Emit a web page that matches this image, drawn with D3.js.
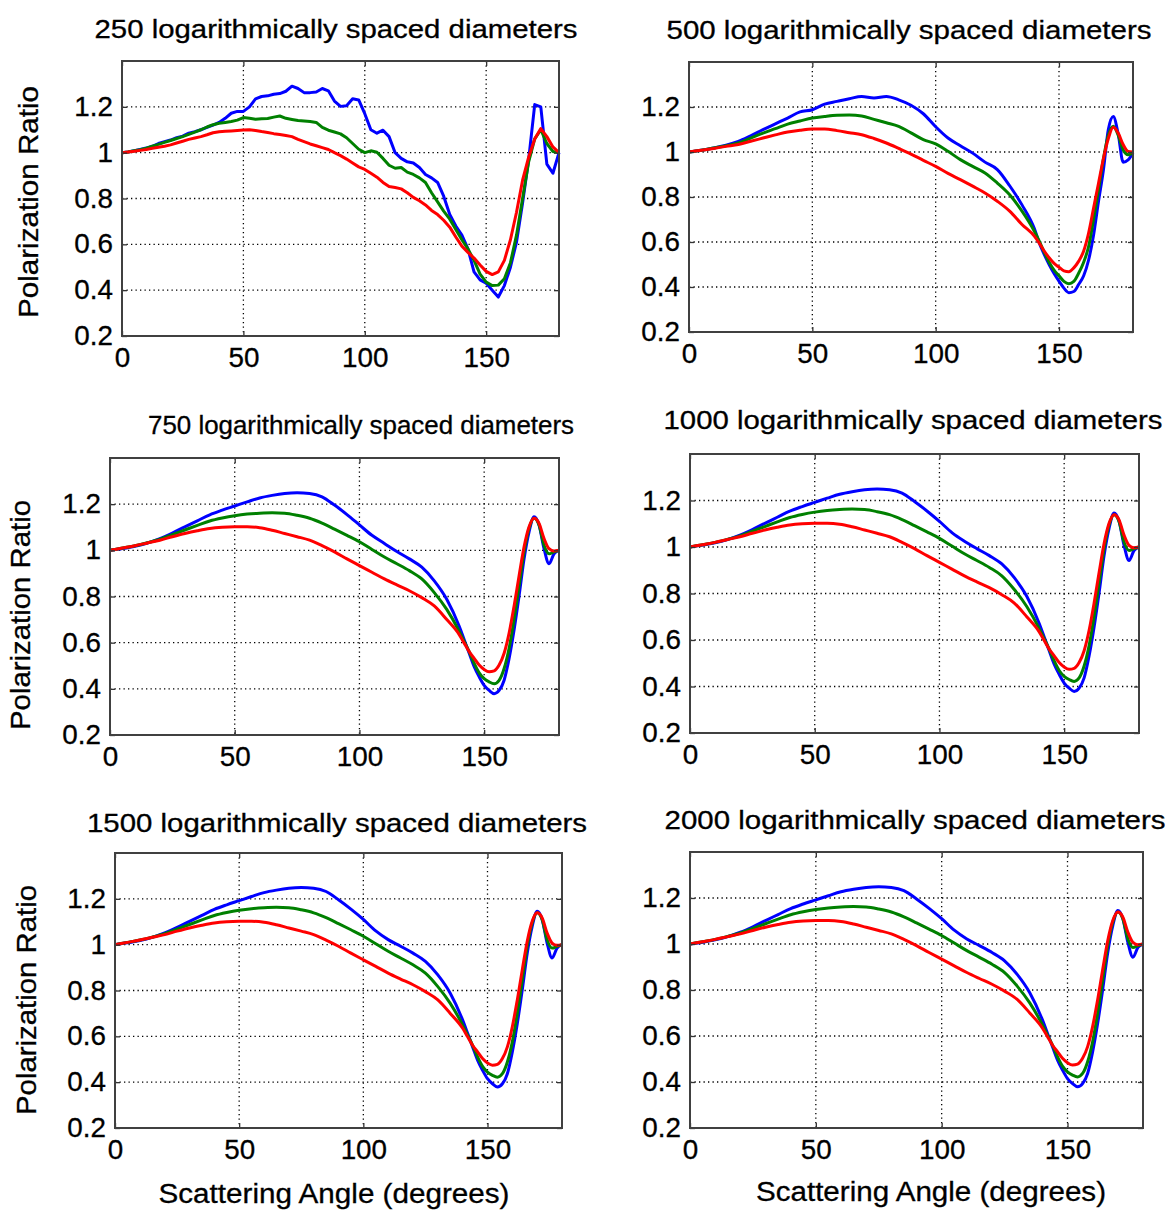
<!DOCTYPE html>
<html>
<head>
<meta charset="utf-8">
<script src="https://cdn.jsdelivr.net/npm/d3@7"></script>
<style>
  body { margin: 0; background: #fff; }
  svg { display: block; }
  text { font-family: "Liberation Sans", Arial, Helvetica, sans-serif; fill: #000; }
</style>
</head>
<body>
<svg id="chart" width="1170" height="1213"></svg>
<script>
const anglesFine = [0,2.5,5,7.5,10,12.5,15,17.5,20,22.5,25,27.5,30,32.5,35,37.5,40,42.5,45,47.5,
  50,52.5,55,57.5,60,62.5,65,67.5,70,72.5,75,77.5,80,82.5,85,87.5,90,92.5,95,97.5,
  100,102.5,105,107.5,110,112.5,115,117.5,120,122.5,125,127.5,130,132.5,135,137.5,
  140,142.5,145,147.5,150,152.5,155,157.5,160,162.5,165,167.5,170,172.5,175,177.5,180];
const angles = [0,5,10,15,20,25,30,35,40,45,50,55,60,65,70,75,80,85,90,95,100,105,110,115,120,125,130,135,140,
  142,144,146,148,150,152,154,156,158,160,162,164,166,168,170,172,174,176,178,180];

// 250 diameters (on anglesFine)
const d250Blue = [1.000,1.003,1.008,1.014,1.020,1.028,1.040,1.048,1.055,1.065,1.072,1.085,1.092,1.100,1.110,1.120,
  1.132,1.150,1.172,1.180,1.180,1.200,1.235,1.245,1.248,1.255,1.258,1.268,1.290,1.280,1.262,1.262,1.265,1.280,1.270,
  1.225,1.202,1.205,1.235,1.230,1.170,1.100,1.085,1.098,1.070,1.000,0.975,0.960,0.955,0.935,0.905,0.890,0.870,0.810,
  0.730,0.680,0.640,0.580,0.480,0.445,0.430,0.400,0.370,0.420,0.500,0.610,0.780,0.970,1.210,1.200,0.950,0.910,1.000];
const d250Green = [1.000,1.003,1.008,1.013,1.020,1.028,1.036,1.045,1.053,1.062,1.070,1.080,1.090,1.100,1.112,1.122,
  1.128,1.132,1.136,1.142,1.153,1.150,1.146,1.148,1.149,1.155,1.160,1.150,1.145,1.140,1.138,1.136,1.132,1.110,1.098,
  1.090,1.082,1.065,1.040,1.015,1.000,1.008,1.002,0.975,0.945,0.932,0.935,0.915,0.905,0.890,0.870,0.825,0.785,0.745,
  0.710,0.665,0.620,0.580,0.530,0.470,0.435,0.420,0.422,0.450,0.520,0.640,0.800,0.960,1.060,1.100,1.040,1.005,1.000];
const d250Red = [1.000,1.003,1.006,1.010,1.014,1.019,1.024,1.028,1.034,1.042,1.050,1.058,1.064,1.070,1.078,1.087,
  1.091,1.093,1.095,1.097,1.099,1.100,1.097,1.092,1.088,1.083,1.079,1.075,1.070,1.058,1.048,1.038,1.030,1.022,1.014,
  1.000,0.987,0.972,0.955,0.938,0.927,0.910,0.893,0.870,0.852,0.848,0.842,0.825,0.805,0.790,0.772,0.748,0.730,0.705,
  0.675,0.632,0.592,0.565,0.540,0.510,0.482,0.468,0.480,0.530,0.620,0.740,0.880,0.980,1.060,1.105,1.070,1.025,1.000];

// 500 diameters (on angles)
const d500Blue = [1.000,1.008,1.018,1.030,1.047,1.072,1.099,1.125,1.151,1.178,1.188,1.213,1.225,1.237,1.247,1.240,
  1.247,1.232,1.208,1.170,1.112,1.062,1.028,0.995,0.955,0.922,0.850,0.765,0.660,
  0.596,0.545,0.500,0.460,0.426,0.395,0.375,0.380,0.412,0.450,0.520,0.630,0.780,0.920,1.100,1.158,1.080,0.955,0.965,0.996];
const d500Green = [1.000,1.008,1.018,1.028,1.040,1.062,1.084,1.104,1.124,1.138,1.151,1.158,1.163,1.164,1.160,1.145,
  1.130,1.114,1.085,1.055,1.036,1.003,0.966,0.936,0.907,0.862,0.810,0.737,0.648,
  0.604,0.555,0.510,0.475,0.450,0.425,0.415,0.425,0.462,0.510,0.580,0.700,0.830,0.970,1.075,1.115,1.075,1.010,0.988,0.996];
const d500Red = [1.000,1.008,1.016,1.025,1.033,1.048,1.062,1.076,1.089,1.097,1.102,1.102,1.095,1.086,1.077,1.060,
  1.040,1.016,0.991,0.963,0.936,0.905,0.877,0.848,0.818,0.781,0.737,0.678,0.626,
  0.595,0.560,0.530,0.505,0.488,0.472,0.468,0.485,0.515,0.560,0.640,0.750,0.860,0.970,1.060,1.110,1.084,1.033,1.003,1.000];

// 750 diameters
const d750Blue = [1.000,1.008,1.018,1.032,1.051,1.075,1.102,1.128,1.154,1.174,1.192,1.210,1.227,1.238,1.246,1.249,
  1.246,1.232,1.196,1.155,1.110,1.065,1.030,0.995,0.963,0.927,0.868,0.788,0.671,
  0.613,0.554,0.496,0.452,0.415,0.393,0.379,0.393,0.437,0.532,0.656,0.803,0.963,1.080,1.146,1.110,1.007,0.942,0.985,1.000];
const d750Green = [1.000,1.010,1.020,1.033,1.048,1.068,1.088,1.108,1.127,1.140,1.150,1.157,1.161,1.163,1.161,1.152,
  1.139,1.118,1.092,1.065,1.037,1.004,0.971,0.942,0.912,0.876,0.817,0.744,0.649,
  0.605,0.561,0.510,0.469,0.444,0.430,0.422,0.437,0.488,0.576,0.700,0.846,0.993,1.095,1.139,1.110,1.022,0.985,0.993,1.000];
const d750Red = [1.000,1.010,1.020,1.032,1.044,1.059,1.073,1.085,1.095,1.100,1.102,1.102,1.098,1.087,1.073,1.059,
  1.044,1.020,0.993,0.963,0.934,0.905,0.876,0.850,0.825,0.795,0.759,0.700,0.635,
  0.598,0.561,0.532,0.503,0.484,0.474,0.478,0.503,0.554,0.642,0.759,0.890,1.015,1.102,1.139,1.117,1.051,1.007,0.997,1.000];

// 1000 diameters
const d1000Blue = [1.000,1.008,1.018,1.032,1.051,1.075,1.102,1.128,1.154,1.174,1.192,1.210,1.227,1.238,1.246,1.249,
  1.246,1.232,1.196,1.155,1.110,1.062,1.025,0.993,0.963,0.927,0.868,0.788,0.671,
  0.613,0.554,0.496,0.452,0.415,0.393,0.379,0.393,0.437,0.532,0.656,0.803,0.963,1.080,1.146,1.110,1.007,0.942,0.985,1.000];
const d1000Green = [1.000,1.010,1.020,1.033,1.048,1.068,1.088,1.108,1.127,1.140,1.150,1.157,1.161,1.163,1.161,1.152,
  1.139,1.118,1.092,1.065,1.037,1.004,0.971,0.942,0.912,0.876,0.817,0.744,0.649,
  0.605,0.561,0.510,0.469,0.444,0.430,0.422,0.437,0.488,0.576,0.700,0.846,0.993,1.095,1.139,1.110,1.022,0.985,0.993,1.000];
const d1000Red = [1.000,1.010,1.020,1.032,1.044,1.059,1.073,1.085,1.095,1.100,1.102,1.102,1.098,1.087,1.073,1.059,
  1.044,1.020,0.993,0.963,0.934,0.905,0.876,0.850,0.825,0.795,0.759,0.700,0.635,
  0.598,0.561,0.532,0.503,0.484,0.474,0.478,0.503,0.554,0.642,0.759,0.890,1.015,1.102,1.139,1.117,1.051,1.007,0.997,1.000];

// 1500 diameters
const d1500Blue = [1.000,1.008,1.018,1.032,1.051,1.075,1.102,1.128,1.154,1.174,1.192,1.210,1.227,1.238,1.246,1.249,
  1.246,1.232,1.196,1.155,1.110,1.060,1.022,0.993,0.963,0.927,0.868,0.788,0.671,
  0.613,0.554,0.496,0.452,0.415,0.393,0.379,0.393,0.437,0.532,0.656,0.803,0.963,1.080,1.146,1.110,1.007,0.942,0.985,1.000];
const d1500Green = [1.000,1.010,1.020,1.033,1.048,1.068,1.088,1.108,1.127,1.140,1.150,1.157,1.161,1.163,1.161,1.152,
  1.139,1.118,1.092,1.065,1.037,1.004,0.971,0.942,0.912,0.876,0.817,0.744,0.649,
  0.605,0.561,0.510,0.469,0.444,0.430,0.422,0.437,0.488,0.576,0.700,0.846,0.993,1.095,1.139,1.110,1.022,0.985,0.993,1.000];
const d1500Red = [1.000,1.010,1.020,1.032,1.044,1.059,1.073,1.085,1.095,1.100,1.102,1.102,1.098,1.087,1.073,1.059,
  1.044,1.020,0.993,0.963,0.934,0.905,0.876,0.850,0.825,0.795,0.759,0.700,0.635,
  0.598,0.561,0.532,0.503,0.484,0.474,0.478,0.503,0.554,0.642,0.759,0.890,1.015,1.102,1.139,1.117,1.051,1.007,0.997,1.000];

// 2000 diameters
const d2000Blue = [1.000,1.008,1.018,1.032,1.051,1.075,1.102,1.128,1.154,1.174,1.192,1.210,1.227,1.238,1.246,1.249,
  1.246,1.232,1.196,1.155,1.110,1.060,1.022,0.993,0.963,0.927,0.868,0.788,0.671,
  0.613,0.554,0.496,0.452,0.415,0.393,0.379,0.393,0.437,0.532,0.656,0.803,0.963,1.080,1.146,1.110,1.007,0.942,0.985,1.000];
const d2000Green = [1.000,1.010,1.020,1.033,1.048,1.068,1.088,1.108,1.127,1.140,1.150,1.157,1.161,1.163,1.161,1.152,
  1.139,1.118,1.092,1.065,1.037,1.004,0.971,0.942,0.912,0.876,0.817,0.744,0.649,
  0.605,0.561,0.510,0.469,0.444,0.430,0.422,0.437,0.488,0.576,0.700,0.846,0.993,1.095,1.139,1.110,1.022,0.985,0.993,1.000];
const d2000Red = [1.000,1.010,1.020,1.032,1.044,1.059,1.073,1.085,1.095,1.100,1.102,1.102,1.098,1.087,1.073,1.059,
  1.044,1.020,0.993,0.963,0.934,0.905,0.876,0.850,0.825,0.795,0.759,0.700,0.635,
  0.598,0.561,0.532,0.503,0.484,0.474,0.478,0.503,0.554,0.642,0.759,0.890,1.015,1.102,1.139,1.117,1.051,1.007,0.997,1.000];

const titles = ["250 logarithmically spaced diameters", "500 logarithmically spaced diameters",
  "750 logarithmically spaced diameters", "1000 logarithmically spaced diameters",
  "1500 logarithmically spaced diameters", "2000 logarithmically spaced diameters"];
const xTicks = [0, 50, 100, 150];
const yTicks = [0.2, 0.4, 0.6, 0.8, 1, 1.2];
const xGrid = [50, 100, 150];
const yGrid = [0.4, 0.6, 0.8, 1, 1.2];
const yLabel = "Polarization Ratio";
const xLabel = "Scattering Angle (degrees)";

const panels = [
  { x: anglesFine, series: [d250Blue, d250Green, d250Red] },
  { x: angles, series: [d500Blue, d500Green, d500Red] },
  { x: angles, series: [d750Blue, d750Green, d750Red] },
  { x: angles, series: [d1000Blue, d1000Green, d1000Red] },
  { x: angles, series: [d1500Blue, d1500Green, d1500Red] },
  { x: angles, series: [d2000Blue, d2000Green, d2000Red] }
];

// pixel boxes of each subplot + where their texts go
const layout = [
  { l: 122, t: 61,  r: 559,  b: 336,  tx: 336, ty: 38,  tw: 483, yl: { x: 28, y: 202, w: 232 } },
  { l: 689, t: 62,  r: 1133, b: 332,  tx: 909, ty: 39,  tw: 485 },
  { l: 110, t: 458, r: 559,  b: 735,  tx: 361, ty: 434, tw: 426, yl: { x: 20, y: 615, w: 230 } },
  { l: 690, t: 454, r: 1139, b: 733,  tx: 913, ty: 429, tw: 499 },
  { l: 115, t: 853, r: 562,  b: 1128, tx: 337, ty: 832, tw: 500, yl: { x: 26, y: 1000, w: 230 }, xl: { x: 334, y: 1203, w: 351 } },
  { l: 690, t: 852, r: 1143, b: 1128, tx: 915, ty: 829, tw: 501, xl: { x: 931, y: 1201, w: 350 } }
];

const colors = ["#0000ff", "#008000", "#ff0000"];
const svg = d3.select("#chart");

function stretch(sel, k) {
  sel.each(function () {
    const w = this.getComputedTextLength();
    d3.select(this).attr("textLength", w * k).attr("lengthAdjust", "spacingAndGlyphs");
  });
}

panels.forEach((p, i) => {
  const box = layout[i];
  const x = d3.scaleLinear().domain([0, 180]).range([box.l, box.r]);
  const y = d3.scaleLinear().domain([0.2, 1.4]).range([box.b, box.t]);
  const g = svg.append("g");

  // grid punts
  g.append("g").selectAll("line").data(xGrid).join("line")
    .attr("x1", d => x(d)).attr("x2", d => x(d))
    .attr("y1", box.t).attr("y2", box.b)
    .attr("stroke", "#000").attr("stroke-width", 1.3).attr("stroke-dasharray", "1.3,3.2");
  g.append("g").selectAll("line").data(yGrid).join("line")
    .attr("y1", d => y(d)).attr("y2", d => y(d))
    .attr("x1", box.l).attr("x2", box.r)
    .attr("stroke", "#000").attr("stroke-width", 1.3).attr("stroke-dasharray", "1.3,3.2");

  // corbes
  const line = d3.line()
    .x((d, j) => x(p.x[j]))
    .y(d => y(d))
    .curve(i === 0 ? d3.curveLinear : d3.curveMonotoneX);
  p.series.forEach((s, k) => {
    g.append("path")
      .attr("d", line(s))
      .attr("fill", "none")
      .attr("stroke", colors[k])
      .attr("stroke-width", 3)
      .attr("stroke-linejoin", "round");
  });

  // eixos (ticks cap a dins)
  const ax = g.append("g").attr("transform", `translate(0,${box.b})`)
    .call(d3.axisBottom(x).tickValues(xTicks).tickSizeInner(-5).tickSizeOuter(0).tickPadding(12));
  const ay = g.append("g").attr("transform", `translate(${box.l},0)`)
    .call(d3.axisLeft(y).tickValues(yTicks).tickSizeInner(-5).tickSizeOuter(0).tickPadding(9).tickFormat(d3.format("")));
  g.append("g").attr("transform", `translate(0,${box.t})`)
    .call(d3.axisTop(x).tickValues(xTicks).tickSizeInner(-5).tickSizeOuter(0).tickFormat(""));
  g.append("g").attr("transform", `translate(${box.r},0)`)
    .call(d3.axisRight(y).tickValues(yTicks).tickSizeInner(-5).tickSizeOuter(0).tickFormat(""));

  g.selectAll(".domain").remove();
  g.selectAll(".tick line").attr("stroke", "#333").attr("stroke-width", 1.3);
  g.selectAll(".tick text").attr("font-size", 27)
    .attr("font-family", "'Liberation Sans', Arial, sans-serif").attr("fill", "#000")
    .attr("stroke", "#000").attr("stroke-width", 0.3);
  stretch(ax.selectAll(".tick text"), 1.03);
  stretch(ay.selectAll(".tick text"), 1.03);

  // caixa
  g.append("rect")
    .attr("x", box.l).attr("y", box.t)
    .attr("width", box.r - box.l).attr("height", box.b - box.t)
    .attr("fill", "none").attr("stroke", "#404040").attr("stroke-width", 2);

  // titol
  g.append("text")
    .attr("x", box.tx).attr("y", box.ty)
    .attr("text-anchor", "middle").attr("font-size", 25)
    .attr("stroke", "#000").attr("stroke-width", 0.3)
    .attr("textLength", box.tw).attr("lengthAdjust", "spacingAndGlyphs")
    .text(titles[i]);

  if (box.yl) {
    g.append("text")
      .attr("transform", `translate(${box.yl.x + 10},${box.yl.y}) rotate(-90)`)
      .attr("text-anchor", "middle").attr("font-size", 28)
      .attr("stroke", "#000").attr("stroke-width", 0.3)
      .attr("textLength", box.yl.w).attr("lengthAdjust", "spacingAndGlyphs")
      .text(yLabel);
  }
  if (box.xl) {
    g.append("text")
      .attr("x", box.xl.x).attr("y", box.xl.y)
      .attr("text-anchor", "middle").attr("font-size", 27)
      .attr("stroke", "#000").attr("stroke-width", 0.3)
      .attr("textLength", box.xl.w).attr("lengthAdjust", "spacingAndGlyphs")
      .text(xLabel);
  }
});
</script>
</body>
</html>
